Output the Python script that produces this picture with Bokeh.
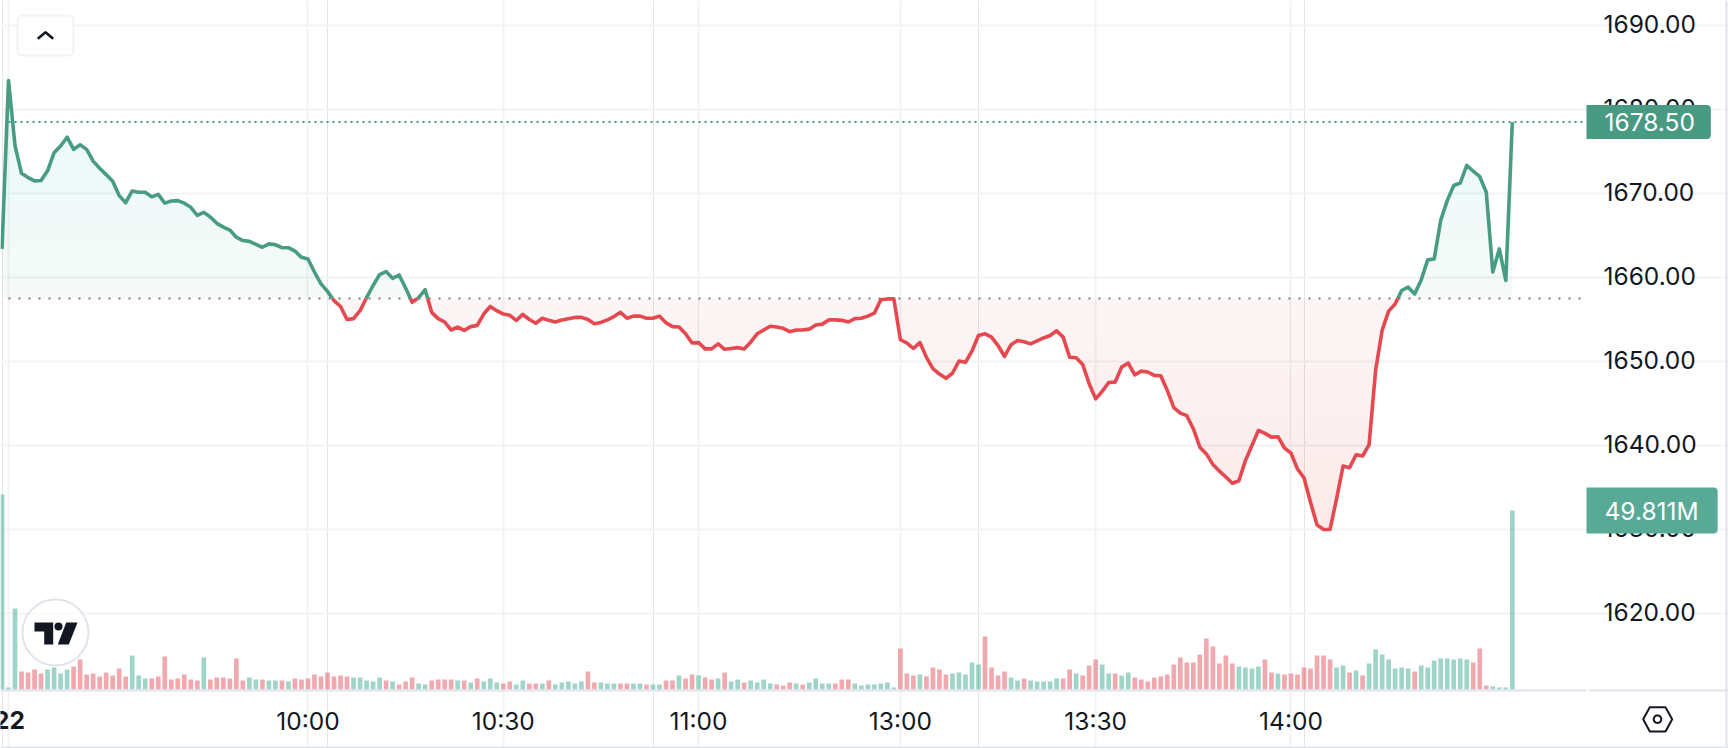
import numpy as np
from bokeh.embed import file_html
from bokeh.resources import INLINE
from bokeh.plotting import figure
from bokeh.models import Range1d, FixedTicker, Label, PolyAnnotation, BoxAnnotation, LinearAxis, Grid

# ---- data: one point per minute bar, first bar is the previous session's last ----
prices = [
1663.4,1683.45,1675.7,1672.4,1671.9,1671.5,1671.55,1672.7,1674.85,1675.65,
1676.7,1675.25,1675.8,1675.25,1673.85,1673.0,1672.25,1671.45,1669.75,1668.9,
1670.3,1670.15,1670.15,1669.6,1669.9,1668.85,1669.1,1669.15,1668.85,1668.35,
1667.4,1667.75,1667.2,1666.45,1666.0,1665.65,1664.8,1664.4,1664.3,1663.95,
1663.6,1664.0,1663.9,1663.55,1663.55,1663.15,1662.4,1662.2,1660.65,1659.25,
1658.35,1657.25,1656.55,1655.0,1655.1,1656.05,1657.6,1659.05,1660.35,1660.7,
1659.9,1660.3,1658.75,1657.05,1657.6,1658.55,1655.85,1655.1,1654.7,1653.75,
1654.1,1653.7,1654.15,1654.3,1655.65,1656.55,1656.05,1655.65,1655.5,1654.9,
1655.6,1655.0,1654.55,1655.15,1654.9,1654.7,1654.95,1655.1,1655.25,1655.25,
1655.0,1654.5,1654.65,1654.95,1655.35,1655.85,1655.15,1655.4,1655.4,1655.15,
1655.15,1655.4,1654.6,1654.15,1654.1,1653.3,1652.2,1652.25,1651.5,1651.5,
1652.1,1651.45,1651.55,1651.65,1651.5,1652.3,1653.3,1653.75,1654.2,1654.1,
1653.95,1653.55,1653.75,1653.75,1653.85,1654.35,1654.45,1654.95,1654.95,1654.9,
1654.7,1655.1,1655.15,1655.4,1655.75,1657.35,1657.45,1657.45,1652.6,1652.2,
1651.55,1652.25,1650.5,1649.15,1648.5,1648.0,1648.6,1650.05,1649.9,1651.25,
1653.1,1653.3,1652.9,1651.9,1650.6,1652.0,1652.5,1652.35,1652.1,1652.45,
1652.8,1653.1,1653.65,1652.9,1650.5,1650.45,1649.65,1647.35,1645.55,1646.45,
1647.5,1647.55,1649.35,1649.8,1648.4,1648.85,1648.75,1648.35,1648.3,1646.55,
1644.5,1643.85,1643.55,1642.0,1639.8,1639.0,1637.75,1636.95,1636.25,1635.5,
1635.8,1638.2,1640.0,1641.8,1641.45,1641.0,1641.05,1639.7,1639.1,1637.2,
1636.15,1633.25,1630.55,1630.0,1630.0,1633.65,1637.55,1637.35,1638.9,1638.75,
1640.1,1648.95,1653.7,1656.0,1656.85,1658.45,1658.85,1658.05,1659.7,1662.1,
1662.2,1666.8,1669.15,1670.95,1671.25,1673.35,1672.65,1672.0,1670.15,1660.65,
1663.4,1659.65,1678.5]

volumes_m = [
54.26,0.56,22.54,5.01,4.73,5.57,4.45,5.57,6.12,4.45,
5.57,6.40,8.35,4.17,4.45,3.62,4.73,3.90,5.84,3.62,
9.46,3.90,3.06,3.06,3.62,9.18,2.78,3.06,4.17,2.78,
2.50,8.91,2.78,3.34,3.34,3.06,8.63,2.50,3.34,2.78,
2.78,2.50,2.50,2.50,2.23,3.06,2.78,3.06,4.17,3.62,
4.73,3.62,3.90,3.62,3.34,3.34,2.50,2.23,3.34,2.50,
2.23,1.39,2.23,3.34,1.67,1.39,2.50,2.78,2.78,2.78,
2.50,2.50,1.95,3.06,2.23,3.06,1.95,1.67,2.23,1.39,
2.50,1.67,1.67,1.67,2.50,1.39,1.95,2.23,1.67,2.23,
5.01,1.95,1.95,1.67,1.67,1.67,1.67,1.67,1.67,1.39,
1.39,1.39,2.50,2.50,3.90,3.06,4.17,3.90,3.34,2.78,
3.06,4.73,2.23,2.78,1.95,2.50,1.95,2.78,1.67,1.39,
1.11,1.95,1.67,1.39,1.95,3.06,1.67,1.67,1.67,2.78,
2.78,1.67,1.11,1.39,1.39,1.67,1.95,0.56,11.41,4.45,
3.90,4.17,3.62,6.12,5.57,4.17,4.45,4.73,4.17,7.51,
6.96,14.75,6.12,3.90,5.01,3.34,2.50,3.06,2.50,2.23,
2.23,2.23,3.06,3.06,5.57,4.45,3.90,6.68,8.35,6.96,
4.45,4.45,3.90,4.73,3.34,2.78,2.23,3.34,3.62,4.17,
6.96,8.91,7.51,7.51,9.74,14.19,11.97,7.24,9.46,7.24,
6.40,6.12,5.84,6.40,8.35,4.73,4.45,4.17,4.45,4.17,
6.12,5.84,9.46,9.46,8.35,6.12,6.68,4.73,5.29,3.90,
7.24,11.13,9.74,8.35,5.84,6.12,5.84,5.01,6.68,6.12,
8.07,8.63,8.63,8.35,8.63,8.35,7.51,11.41,1.11,0.83,
0.56,0.56,49.811]

bar_dirs = ("gggrrrrggg" "grrrrrrrrr" "gggrrrrrrr" "rgrrrrrrgg" "rggrgrrrrr"
            "rrrrgggggr" "grrrggrrrr" "grgrgggrrg" "grrgrggggg" "rrgggrrggr"
            "ggrrgrrgrr" "grggrggggr" "rrgrggggrr" "rgggggggrr" "rgrrrrgggg"
            "grrrrggrgg" "gggrrgrrrg" "grggrrrrrr" "rrrrrrrrrr" "ggggrrgrrr"
            "rrrrrggrgr" "gggggggrgg" "ggggggrrrg" "ggg")

x_ticks = [1, 47, 77, 107, 138, 168, 198]
x_tick_labels = ["22", "10:00", "10:30", "11:00", "13:00", "13:30", "14:00"]
y_ticks = [1620, 1630, 1640, 1650, 1660, 1670, 1680, 1690]
base_price = 1657.5
last_price = 1678.5
last_volume = 49.811

FONT = "Inter"
FONT_SIZE = "24.5px"
INK = "#131722"
GREEN, RED = "#489C84", "#E5484F"
RED_FILL = "#C9403F"
GRID = "#F2F3F4"
EDGE = "#E0E3EB"

# ---- pixel geometry of the scales ----
W, H, FW, FH = 1728, 748, 1586, 690
BAR0, STEP = 1.5, 6.51
PY1690, PXUNIT = 25.0, 8.4
M_PER_PX = 0.2783
LABEL_LIFT = 2  # px the price labels sit above their grid lines


def X(px):
    return (px - BAR0) / STEP


def Y(py):
    return 1690 - (py - PY1690) / PXUNIT


# The frame spans the whole page; the axes sit inside it at the pane edges.
p = figure(width=W, height=H, x_range=Range1d(X(0), X(W)), y_range=Range1d(Y(H), Y(0)),
           x_axis_location=None, y_axis_location=None, output_backend="svg", toolbar_location=None,
           min_border_left=0, min_border_top=0, min_border_right=0, min_border_bottom=0,
           outline_line_color=None, background_fill_color="white", border_fill_color="white")
p.extra_y_ranges = {"vol": Range1d((689 - H) * M_PER_PX, 689 * M_PER_PX),
                    "labels": Range1d(Y(H + LABEL_LIFT), Y(LABEL_LIFT))}

xaxis = LinearAxis(ticker=FixedTicker(ticks=x_ticks), fixed_location=Y(FH), bounds=(X(0), X(FW)),
                   major_label_overrides={t: ("" if t == 1 else l) for t, l in zip(x_ticks, x_tick_labels)},
                   axis_line_color=EDGE, axis_line_width=2, major_label_standoff=15)
yaxis = LinearAxis(ticker=FixedTicker(ticks=y_ticks), fixed_location=X(FW), y_range_name="labels",
                   major_label_overrides={t: f"{t:.2f}" for t in y_ticks},
                   axis_line_color=None, major_label_standoff=17)
for ax in (xaxis, yaxis):
    ax.major_tick_line_color = None
    ax.minor_tick_line_color = None
    ax.major_tick_out = 0
    ax.major_tick_in = 0
    ax.major_label_text_font = FONT
    ax.major_label_text_font_size = FONT_SIZE
    ax.major_label_text_color = INK
p.add_layout(xaxis, "below")
p.add_layout(yaxis, "right")
p.add_layout(Grid(dimension=0, ticker=xaxis.ticker, bounds=(Y(FH), Y(0)), grid_line_color=GRID, grid_line_width=2))
p.add_layout(Grid(dimension=1, ticker=yaxis.ticker, bounds=(X(0), X(FW)), grid_line_color=GRID, grid_line_width=2))

xs = np.arange(len(prices), dtype=float)
ys = np.array(prices, dtype=float)


def split_at(x, y, level):
    """Add the points where the polyline crosses a horizontal level."""
    ox, oy = [x[0]], [y[0]]
    for i in range(1, len(x)):
        a, b = y[i - 1], y[i]
        if (a - level) * (b - level) < 0:
            t = (level - a) / (b - a)
            ox.append(x[i - 1] + t * (x[i] - x[i - 1]))
            oy.append(level)
        ox.append(x[i])
        oy.append(b)
    return np.array(ox), np.array(oy)


def gradient_fill(color, far_level, a_near, a_far, layers=12):
    """Area between the base and the line, deepening away from the base."""
    levels = np.linspace(base_price, far_level, layers + 1)[:-1]
    for k, lev in enumerate(levels):
        sx, sy = split_at(xs, ys, lev)
        edge = np.maximum(sy, lev) if far_level > base_price else np.minimum(sy, lev)
        alpha = a_near if k == 0 else (a_far - a_near) / (layers - 1)
        p.varea(x=sx, y1=edge, y2=np.full_like(sx, lev), fill_color=color, fill_alpha=alpha)


gradient_fill(GREEN, 1683.5, 0.055, 0.105)
gradient_fill(RED_FILL, 1630.0, 0.05, 0.105)

# volume
bar_colors = ["#40A991" if d == "g" else "#E1555F" for d in bar_dirs]
p.vbar(x=xs, top=volumes_m, bottom=0, width=4.7 / STEP, y_range_name="vol",
       fill_color=bar_colors, fill_alpha=0.5, line_color=None)

# reference dotted lines
x_span = [float(x_ticks[0]), X(FW)]
p.line(x_span, [base_price, base_price], line_color="#787B86", line_width=2, line_dash="2 8")
p.line(x_span, [last_price, last_price], line_color=GREEN, line_width=2, line_dash="2 4")

# price line
sx, sy = split_at(xs, ys, base_price)
p.line(sx, np.where(sy >= base_price, sy, np.nan), line_color=GREEN, line_width=3.6, line_join="round")
p.line(sx, np.where(sy <= base_price, sy, np.nan), line_color=RED, line_width=3.6, line_join="round")


def poly(pts, fill=None, line=None, lw=0):
    p.add_layout(PolyAnnotation(xs=[X(a) for a, _ in pts], ys=[Y(b) for _, b in pts],
                                fill_color=fill, fill_alpha=1 if fill else 0,
                                line_color=line, line_width=lw, line_alpha=1 if line else 0,
                                level="annotation"))


def rect(x0, y0, x1, y1, color):
    poly([(x0, y0), (x1, y0), (x1, y1), (x0, y1)], fill=color)


# pane edges
rect(1588, 689, W, 691, EDGE)
rect(0, 746, W, 748, EDGE)
rect(1725, 0, 1727, 746, EDGE)

# last-value tags, over the tick labels
for val, txt, col, rng, pad in [(last_price, "1678.50", "#489A82", "default", (18, 16, 8, 8)),
                                (last_volume, "49.811M", "#58AA96", "vol", (18, 19, 8, 8))]:
    p.add_layout(Label(x=X(FW), y=val, y_range_name=rng, text=txt, text_font=FONT,
                       text_font_size=FONT_SIZE, text_color="white", text_align="left",
                       text_baseline="middle", background_fill_color=col,
                       padding=pad, border_radius=(0, 4, 4, 0), level="overlay"))

# date label in the time scale
p.add_layout(Label(x=X(9), y=Y(719), text=x_tick_labels[0], text_font=FONT, text_font_size=FONT_SIZE,
                   text_font_style="bold", text_color=INK, text_align="center",
                   text_baseline="middle", level="overlay"))

# collapse button
p.add_layout(BoxAnnotation(left=X(17), right=X(73), top=Y(15), bottom=Y(55), fill_color="white", fill_alpha=1,
                           line_color="#D1D4DC", line_width=2, border_radius=5, level="annotation"))
p.line([X(37.3), X(45), X(52.7)], [Y(38.3), Y(31.7), Y(38.3)], line_color=INK, line_width=2.6, level="overlay")

# logo
p.scatter([X(55)], [Y(632)], size=66, marker="circle", fill_color="white", fill_alpha=0.6,
          line_color=EDGE, line_width=2, level="guide")
poly([(34, 622), (52.7, 622), (52.7, 644), (43.7, 644), (43.7, 631), (34, 631)], fill=INK)
poly([(65.7, 622), (77, 622), (68.3, 644), (57.3, 644)], fill=INK)
p.scatter([X(58)], [Y(626)], size=8, marker="circle", fill_color=INK, line_color=None, level="overlay")

# settings icon
poly([(1642.7, 718.7), (1649.3, 706.7), (1665, 706.7), (1671.7, 718.7), (1665, 731), (1649.3, 731)], line=INK, lw=2)
ang = np.linspace(0, 2 * np.pi, 25)[:-1]
poly(list(zip(1657 + 3.8 * np.cos(ang), 718.7 + 3.8 * np.sin(ang))), line=INK, lw=2)

open("out.html", "w").write(file_html(p, INLINE))
